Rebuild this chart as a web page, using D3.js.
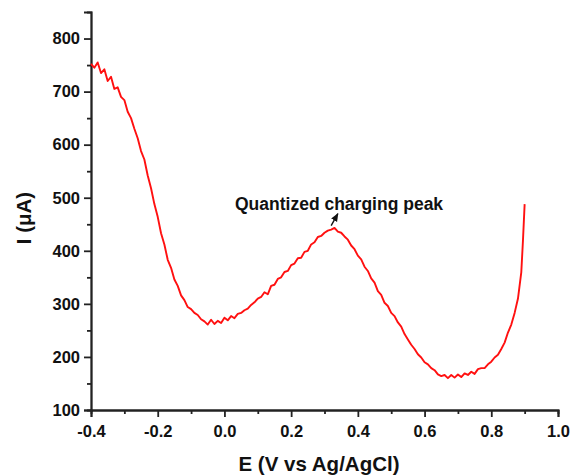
<!DOCTYPE html>
<html>
<head>
<meta charset="utf-8">
<script src="https://cdn.jsdelivr.net/npm/d3@7"></script>
<style>
  body { margin: 0; background: #fff; }
  svg { display: block; }
  text { font-family: "Liberation Sans", Arial, sans-serif; font-weight: bold; fill: #111; }
</style>
</head>
<body>
<div id="chart"></div>
<script>
// potential (V vs Ag/AgCl) and current (uA)
var potential = [
  -0.40, -0.39, -0.38, -0.37, -0.36, -0.35, -0.34, -0.33, -0.32, -0.31,
  -0.30, -0.29, -0.28, -0.27, -0.26, -0.25, -0.24, -0.23, -0.22, -0.21,
  -0.20, -0.19, -0.18, -0.17, -0.16, -0.15, -0.14, -0.13, -0.12, -0.11,
  -0.10, -0.09, -0.08, -0.07, -0.06, -0.05, -0.04, -0.03, -0.02, -0.01,
  0.00, 0.01, 0.02, 0.03, 0.04, 0.05, 0.06, 0.07, 0.08, 0.09,
  0.10, 0.11, 0.12, 0.13, 0.14, 0.15, 0.16, 0.17, 0.18, 0.19,
  0.20, 0.21, 0.22, 0.23, 0.24, 0.25, 0.26, 0.27, 0.28, 0.29,
  0.30, 0.31, 0.32, 0.33, 0.34, 0.35, 0.36, 0.37, 0.38, 0.39,
  0.40, 0.41, 0.42, 0.43, 0.44, 0.45, 0.46, 0.47, 0.48, 0.49,
  0.50, 0.51, 0.52, 0.53, 0.54, 0.55, 0.56, 0.57, 0.58, 0.59,
  0.60, 0.61, 0.62, 0.63, 0.64, 0.65, 0.66, 0.67, 0.68, 0.69,
  0.70, 0.71, 0.72, 0.73, 0.74, 0.75, 0.76, 0.77, 0.78, 0.79,
  0.80, 0.81, 0.82, 0.83, 0.84, 0.85, 0.86, 0.87, 0.88, 0.89,
  0.895, 0.90
];
var current = [
  752, 745, 755, 735, 742, 720, 728, 705, 708, 690,
  684, 662, 650, 630, 612, 588, 572, 542, 518, 488,
  464, 433, 412, 383, 368, 346, 334, 316, 307, 294,
  290, 283, 279, 271, 267, 261, 270, 262, 268, 264,
  274, 269, 277, 273, 281, 283, 288, 291, 298, 303,
  310, 313, 322, 318, 334, 336, 347, 350, 360, 362,
  373, 376, 386, 387, 398, 400, 412, 416, 426, 428,
  434, 438, 440, 443, 436, 434, 427, 421, 410, 403,
  391, 384, 370, 362, 348, 340, 324, 317, 302, 296,
  283, 277, 265, 257, 243, 233, 223, 215, 205, 199,
  190, 186, 179, 175, 167, 164, 166, 160, 166, 161,
  167, 162, 169, 166, 172, 168, 177, 179, 179, 186,
  191, 199, 204, 215, 227, 246, 261, 283, 310, 360,
  420, 488
];

var xMajor = [-0.4, -0.2, 0.0, 0.2, 0.4, 0.6, 0.8, 1.0];
var xMinor = [-0.3, -0.1, 0.1, 0.3, 0.5, 0.7, 0.9];
var yMajor = [100, 200, 300, 400, 500, 600, 700, 800];
var yMinor = [150, 250, 350, 450, 550, 650, 750];

var xTitle = 'E (V vs Ag/AgCl)';
var yTitle = 'I (\u03bcA)';
var note = 'Quantized charging peak';

var W = 571, H = 476;
var margin = { top: 12, right: 13, bottom: 66, left: 91 };

var svg = d3.select('#chart').append('svg')
  .attr('width', W)
  .attr('height', H);

var x = d3.scaleLinear().domain([-0.4, 1.0]).range([margin.left, W - margin.right]);
var y = d3.scaleLinear().domain([100, 850]).range([H - margin.bottom, margin.top]);

var axisColor = '#222';

// x axis
var gx = svg.append('g').attr('transform', 'translate(0,' + y(100) + ')');
gx.call(d3.axisBottom(x).tickValues(xMinor).tickSize(4).tickFormat(''));
gx.append('g').call(d3.axisBottom(x).tickValues(xMajor).tickSize(7).tickPadding(8)
  .tickFormat(function (d) { return d.toFixed(1).replace('\u2212', '-'); }));

// y axis
var gy = svg.append('g').attr('transform', 'translate(' + x(-0.4) + ',0)');
gy.call(d3.axisLeft(y).tickValues(yMinor).tickSize(4).tickFormat(''));
gy.append('g').call(d3.axisLeft(y).tickValues(yMajor).tickSize(7).tickPadding(4));

svg.selectAll('.domain').attr('stroke', axisColor).attr('stroke-width', 1.8);
svg.selectAll('.tick line').attr('stroke', axisColor).attr('stroke-width', 1.8);
svg.selectAll('.tick text')
  .attr('fill', '#111')
  .style('font-size', '16.5px')
  .style('font-family', '"Liberation Sans", Arial, sans-serif')
  .style('font-weight', 'bold');

// axis titles
svg.append('text')
  .attr('x', 319)
  .attr('y', 471)
  .attr('text-anchor', 'middle')
  .style('font-size', '20.5px')
  .text(xTitle);

svg.append('text')
  .attr('transform', 'translate(31,218) rotate(-90)')
  .attr('text-anchor', 'middle')
  .style('font-size', '20.5px')
  .text(yTitle);

// curve
var line = d3.line()
  .x(function (d, i) { return x(potential[i]); })
  .y(function (d) { return y(d); });

svg.append('path')
  .datum(current)
  .attr('fill', 'none')
  .attr('stroke', '#ff1010')
  .attr('stroke-width', 1.9)
  .attr('stroke-linejoin', 'round')
  .attr('d', line);

// annotation
svg.append('defs').append('marker')
  .attr('id', 'head')
  .attr('viewBox', '0 0 10 10')
  .attr('refX', 9).attr('refY', 5)
  .attr('markerWidth', 6).attr('markerHeight', 6)
  .attr('orient', 'auto')
  .append('path')
  .attr('d', 'M0,1 L10,5 L0,9 Z')
  .attr('fill', '#111');

svg.append('line')
  .attr('x1', x(0.32)).attr('y1', y(440) - 4)
  .attr('x2', x(0.34)).attr('y2', y(470))
  .attr('stroke', '#111')
  .attr('stroke-width', 1.4)
  .attr('marker-end', 'url(#head)');

svg.append('text')
  .attr('x', 235)
  .attr('y', 210)
  .style('font-size', '17.5px')
  .text(note);
</script>
</body>
</html>
